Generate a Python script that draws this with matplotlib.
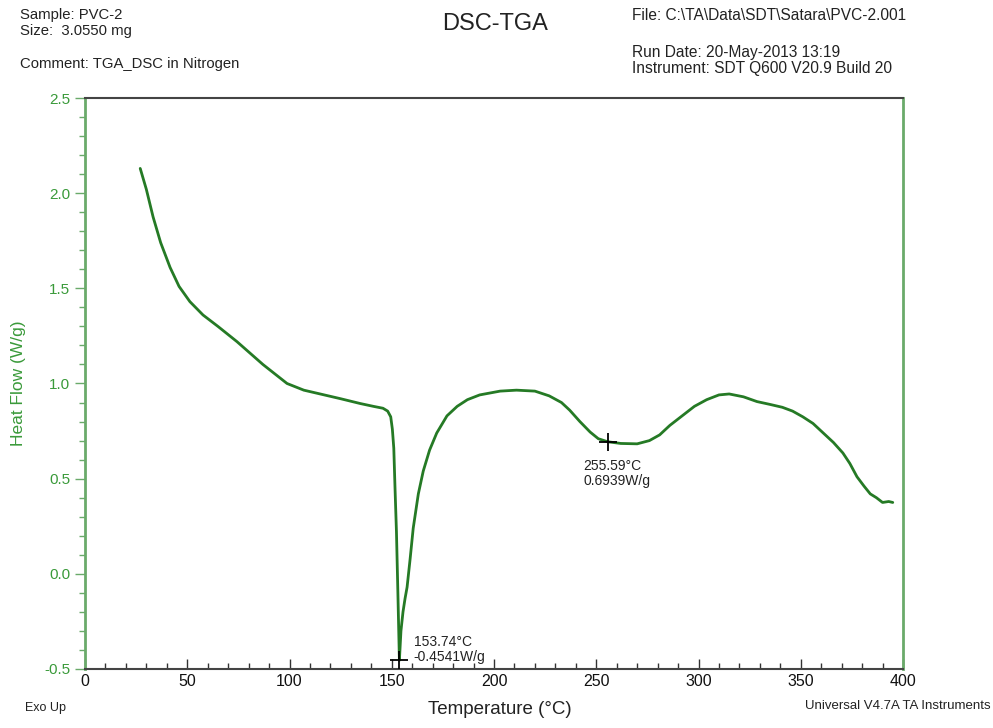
"""DSC heat-flow trace for PVC-2, redrawn in the TA Universal Analysis style."""

import matplotlib

matplotlib.use("Agg")
import matplotlib.pyplot as plt
from matplotlib.ticker import MultipleLocator

# heat flow trace
temperature = [
    27, 30, 33.3, 37, 41.6, 46, 51.3, 57.7, 65, 74.3, 87, 98.8, 107, 115, 125,
    134.5, 141, 145.7, 148, 149.5, 150.3, 151, 151.6, 152.3, 153, 153.74,
    154.5, 155.5, 156.5, 157.5, 159, 160.5, 163, 165.4, 168.5, 172, 177, 182,
    187, 193, 203, 211, 220, 227, 233, 237, 242, 247, 251, 255.59, 262, 270,
    276, 281, 286, 292, 298, 304, 310, 315, 322, 328.6, 335, 341, 346, 351,
    356, 361, 366, 370.6, 374, 377.5, 381, 384, 387, 390, 393, 395,
]
heat_flow = [
    2.13, 2.02, 1.875, 1.74, 1.61, 1.51, 1.43, 1.36, 1.30, 1.22, 1.10, 1.00,
    0.965, 0.945, 0.92, 0.895, 0.88, 0.87, 0.855, 0.825, 0.76, 0.66, 0.45,
    0.22, -0.1, -0.4541, -0.3, -0.2, -0.13, -0.07, 0.08, 0.24, 0.42, 0.54,
    0.65, 0.74, 0.83, 0.88, 0.915, 0.94, 0.96, 0.965, 0.96, 0.935, 0.9, 0.86,
    0.8, 0.745, 0.71, 0.6939, 0.685, 0.683, 0.7, 0.73, 0.78, 0.83, 0.88,
    0.915, 0.94, 0.945, 0.93, 0.905, 0.89, 0.875, 0.855, 0.825, 0.79, 0.74,
    0.69, 0.635, 0.58, 0.51, 0.46, 0.42, 0.4, 0.375, 0.38, 0.375,
]

# labelled points (temperature, heat flow) and where their text sits
peak_temps = [153.74, 255.59]
peak_flows = [-0.4541, 0.6939]
peak_text_dx = [7, -12]
peak_text_dy = [0.135, -0.09]

LINE_GREEN = "#257a25"
AXIS_GREEN = "#6aaa6a"
LABEL_GREEN = "#3a9a3a"
TEXT = "#222222"

plt.rcParams["font.family"] = ["Liberation Sans", "DejaVu Sans"]

fig = plt.figure(figsize=(9.93, 7.28), dpi=100)
ax = fig.add_axes([85 / 993, 1 - 669 / 728, (903 - 85) / 993, (669 - 98) / 728])

ax.plot(temperature, heat_flow, color=LINE_GREEN, lw=2.0,
        solid_joinstyle="round", solid_capstyle="round")

for t, q, dx, dy in zip(peak_temps, peak_flows, peak_text_dx, peak_text_dy):
    ax.plot(t, q, marker="+", ms=13, mew=1.3, color="black", zorder=5)
    ax.text(t + dx, q + dy, f"{t:.2f}°C\n{q:.4f}W/g", fontsize=10, color=TEXT,
            ha="left", va="top", linespacing=1.1)

ax.set_xlim(0, 400)
ax.set_ylim(-0.5, 2.5)
ax.xaxis.set_major_locator(MultipleLocator(50))
ax.xaxis.set_minor_locator(MultipleLocator(10))
ax.yaxis.set_major_locator(MultipleLocator(0.5))
ax.yaxis.set_minor_locator(MultipleLocator(0.1))
ax.yaxis.set_major_formatter(matplotlib.ticker.FormatStrFormatter("%.1f"))

ax.tick_params(axis="x", which="both", direction="in", colors="#333333",
               labelsize=11.5, labelcolor="#111111")
ax.tick_params(axis="x", which="major", length=7, width=1)
ax.tick_params(axis="x", which="minor", length=4, width=1)
ax.tick_params(axis="y", which="both", direction="out", colors=AXIS_GREEN,
               labelsize=11, labelcolor=LABEL_GREEN)
ax.tick_params(axis="y", which="major", length=7, width=1)
ax.tick_params(axis="y", which="minor", length=4, width=1)

ax.spines["left"].set_color(AXIS_GREEN)
ax.spines["right"].set_color(AXIS_GREEN)
ax.spines["left"].set_linewidth(2)
ax.spines["right"].set_linewidth(2)
ax.spines["top"].set_color("#444444")
ax.spines["bottom"].set_color("#444444")
ax.spines["top"].set_linewidth(1.5)
ax.spines["bottom"].set_linewidth(1.5)

ax.set_ylabel("Heat Flow (W/g)", color=LABEL_GREEN, fontsize=12.5, labelpad=13)

# header and footer text in figure pixel coordinates
def fig_text(px, py, s, **kw):
    fig.text(px / 993, 1 - py / 728, s, **kw)

fig_text(20, 15, "Sample: PVC-2", fontsize=10.7, color=TEXT, va="center")
fig_text(20, 31, "Size:  3.0550 mg", fontsize=10.7, color=TEXT, va="center")
fig_text(20, 64, "Comment: TGA_DSC in Nitrogen", fontsize=10.7, color=TEXT, va="center")
fig_text(495, 24, "DSC-TGA", fontsize=17, color=TEXT, ha="center", va="center")
fig_text(632, 15, r"File: C:\TA\Data\SDT\Satara\PVC-2.001", fontsize=11.2, color=TEXT, va="center")
fig_text(632, 52, "Run Date: 20-May-2013 13:19", fontsize=11.2, color=TEXT, va="center")
fig_text(632, 69, "Instrument: SDT Q600 V20.9 Build 20", fontsize=11.2, color=TEXT, va="center")
fig_text(25, 708, "Exo Up", fontsize=9, color=TEXT, va="center")
fig_text(500, 709, "Temperature (°C)", fontsize=13.5, color=TEXT, ha="center", va="center")
fig_text(991, 706, "Universal V4.7A TA Instruments", fontsize=9.5, color=TEXT, ha="right", va="center")

fig.savefig("out.png", dpi=100)
